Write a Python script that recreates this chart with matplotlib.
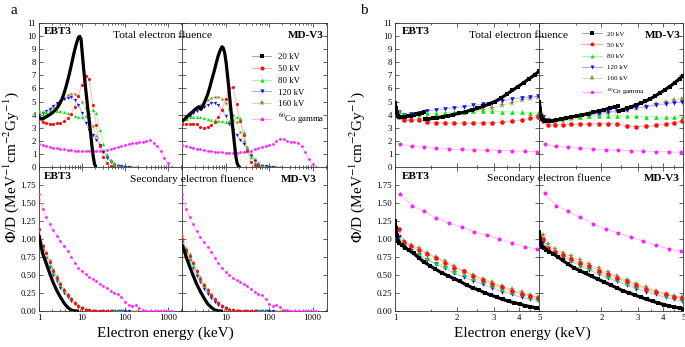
import numpy as np
import matplotlib
matplotlib.use("Agg")
import matplotlib.pyplot as plt
from matplotlib.lines import Line2D
from matplotlib.colors import to_rgb
from matplotlib.ticker import FixedLocator, NullFormatter, FixedFormatter, LogLocator

plt.rcParams['font.family'] = ['Liberation Serif', 'DejaVu Serif']
plt.rcParams['mathtext.fontset'] = 'stix'

# ---------------- data ----------------
series_keys = ['20', '50', '80', '120', '160', 'co']
series_labels = ['20 kV', '50 kV', '80 kV', '120 kV', '160 kV', r'$^{60}$Co gamma']

# panel a energy grids (keV)
E_A = [1, 1.21, 1.47, 1.78, 2.15, 2.61, 3.16, 3.83, 4.64, 5.62, 6.81, 8.25, 10, 12.1, 14.7,
       17.8, 21.5, 26.1, 31.6, 38.3, 46.4, 56.2, 68.1, 82.5, 100, 121, 147, 178, 215, 261,
       316, 383, 464, 562, 681, 825, 1000, 1210]
E_K = [1, 1.1, 1.2, 1.35, 1.5, 1.7, 1.9, 2.15, 2.4, 2.7, 3.0, 3.4, 3.8, 4.3, 4.8, 5.4, 6.0,
       6.7, 7.5, 8.2, 8.8, 9.5, 10.2, 11, 11.8, 12.7, 13.6, 14.6, 15.7, 16.9, 18.2, 19.6, 21]

# a: total electron fluence, EBT3
a_ebt3_tot_20 = [3.8, 3.7, 3.65, 3.75, 3.85, 3.95, 4.05, 4.2, 4.35, 4.55, 4.8, 5.15, 5.6, 6.2, 6.8,
                 7.5, 8.2, 8.9, 9.5, 9.9, 10.0, 9.8, 8.6, 7.4, 6.4, 5.4, 4.5, 3.6, 2.7, 1.7, 0.8, 0.2, 0.0]
a_ebt3_tot_50 = [3.65, 3.45, 3.35, 3.3, 3.3, 3.32, 3.38, 3.5, 3.7, 4.05, 4.6, 5.45, 6.3, 6.95, 6.75,
                 4.75, 3.2, 1.6, 0.75, 0.25, 0.06, 0.01]
a_ebt3_tot_80 = [4.3, 4.22, 4.2, 4.22, 4.25, 4.28, 4.27, 4.22, 4.12, 4.02, 3.92, 3.83, 3.8, 3.88, 4.15,
                 4.38, 4.1, 2.8, 1.75, 0.95, 0.45, 0.18, 0.06, 0.01]
a_ebt3_tot_120 = [4.0, 4.1, 4.25, 4.45, 4.65, 4.85, 5.05, 5.2, 5.3, 5.32, 5.15, 4.75, 4.1, 3.35, 2.8,
                  2.4, 2.05, 1.65, 1.15, 0.7, 0.35, 0.15, 0.05, 0.02, 0.005, 0.0]
a_ebt3_tot_160 = [3.9, 4.0, 4.15, 4.35, 4.55, 4.8, 5.05, 5.3, 5.5, 5.6, 5.6, 5.4, 5.0, 4.5, 3.85,
                  3.1, 2.35, 1.7, 1.2, 0.8, 0.5, 0.28, 0.12, 0.05, 0.02, 0.005, 0.0, 0.0]
a_ebt3_tot_co = [1.75, 1.68, 1.6, 1.53, 1.47, 1.42, 1.37, 1.33, 1.29, 1.26, 1.23, 1.21, 1.2, 1.18,
                 1.17, 1.17, 1.18, 1.2, 1.23, 1.28, 1.33, 1.4, 1.48, 1.57, 1.65, 1.72, 1.78, 1.82,
                 1.86, 1.9, 1.95, 2.05, 1.8, 1.55, 1.2, 0.7, 0.25, 0.0]

# a: total electron fluence, MD-V3
a_md_tot_20 = [3.5, 3.6, 3.75, 3.9, 4.05, 4.2, 4.35, 4.5, 4.6, 4.4, 4.7, 5.1, 5.5, 6.1, 6.7, 7.3,
               7.9, 8.5, 8.95, 9.2, 9.1, 8.7, 8.0, 7.0, 6.0, 4.9, 3.9, 2.9, 1.9, 0.9, 0.3, 0.05, 0.0]
a_md_tot_50 = [3.3, 3.25, 3.25, 3.3, 3.25, 3.05, 2.95, 3.05, 3.2, 3.4, 3.8, 4.35, 5.2, 6.0, 6.1,
               4.8, 3.5, 2.4, 1.2, 0.35, 0.1, 0.02]
a_md_tot_80 = [3.45, 3.65, 3.8, 3.85, 3.82, 3.78, 3.72, 3.67, 3.62, 3.57, 3.52, 3.47, 3.45, 3.48,
               3.6, 3.8, 3.75, 2.7, 1.4, 0.75, 0.35, 0.12, 0.04, 0.01]
a_md_tot_120 = [3.4, 3.65, 3.9, 4.1, 4.3, 4.45, 4.6, 4.75, 4.87, 4.88, 4.7, 4.35, 3.9, 3.3, 2.8,
                2.4, 2.05, 1.75, 1.3, 0.85, 0.45, 0.15, 0.05, 0.02, 0.005, 0.0]
a_md_tot_160 = [3.4, 3.65, 3.95, 4.2, 4.45, 4.7, 4.9, 5.1, 5.25, 5.35, 5.37, 5.2, 4.9, 4.4, 3.95,
                3.4, 2.7, 2.0, 1.5, 1.0, 0.6, 0.32, 0.14, 0.05, 0.02, 0.005, 0.0, 0.0]
a_md_tot_co = [1.7, 1.62, 1.53, 1.45, 1.38, 1.32, 1.26, 1.21, 1.17, 1.14, 1.11, 1.09, 1.07, 1.06,
               1.06, 1.07, 1.09, 1.12, 1.17, 1.24, 1.32, 1.42, 1.52, 1.6, 1.67, 1.75, 1.95, 2.15,
               2.1, 1.97, 1.93, 1.9, 1.83, 1.55, 1.1, 0.6, 0.2, 0.0]

# a: secondary electron fluence, EBT3
a_ebt3_sec_20 = [1.05, 0.8, 0.66, 0.52, 0.39, 0.28, 0.19, 0.11, 0.05, 0.015, 0.0, 0.0]
a_ebt3_sec_50 = [1.13, 0.9, 0.8, 0.68, 0.56, 0.46, 0.37, 0.29, 0.22, 0.16, 0.11, 0.07, 0.04, 0.02,
                 0.01, 0.005, 0, 0, 0, 0, 0]
a_ebt3_sec_80 = [1.0, 0.86, 0.75, 0.64, 0.53, 0.44, 0.36, 0.28, 0.22, 0.16, 0.11, 0.07, 0.045,
                 0.025, 0.012, 0.006, 0.002, 0, 0, 0, 0, 0, 0, 0]
a_ebt3_sec_120 = [1.0, 0.85, 0.73, 0.61, 0.5, 0.41, 0.32, 0.25, 0.19, 0.14, 0.095, 0.06, 0.035,
                  0.02, 0.01, 0.005, 0.002, 0, 0, 0, 0, 0, 0, 0, 0, 0]
a_ebt3_sec_160 = [1.12, 0.92, 0.82, 0.7, 0.58, 0.48, 0.39, 0.31, 0.24, 0.18, 0.12, 0.08, 0.05,
                  0.03, 0.015, 0.007, 0.003, 0, 0, 0, 0, 0, 0, 0, 0, 0, 0, 0]
a_ebt3_sec_co = [1.62, 1.42, 1.3, 1.2, 1.12, 1.04, 0.97, 0.9, 0.83, 0.75, 0.67, 0.6, 0.55, 0.51,
                 0.47, 0.44, 0.41, 0.38, 0.35, 0.32, 0.28, 0.25, 0.24, 0.19, 0.13, 0.09, 0.07,
                 0.08, 0.04, 0.015, 0.005, 0, 0, 0, 0, 0, 0, 0]

# a: secondary electron fluence, MD-V3
a_md_sec_20 = [0.92, 0.76, 0.62, 0.49, 0.37, 0.27, 0.18, 0.1, 0.05, 0.015, 0.0, 0.0]
a_md_sec_50 = [1.0, 0.85, 0.76, 0.66, 0.55, 0.45, 0.36, 0.29, 0.22, 0.16, 0.11, 0.07, 0.04, 0.02,
               0.01, 0.005, 0, 0, 0, 0, 0]
a_md_sec_80 = [0.92, 0.82, 0.72, 0.62, 0.52, 0.43, 0.35, 0.28, 0.22, 0.16, 0.11, 0.07, 0.045,
               0.025, 0.012, 0.006, 0.002, 0, 0, 0, 0, 0, 0, 0]
a_md_sec_120 = [0.95, 0.81, 0.7, 0.59, 0.49, 0.4, 0.31, 0.24, 0.18, 0.13, 0.09, 0.06, 0.035, 0.02,
                0.01, 0.005, 0.002, 0, 0, 0, 0, 0, 0, 0, 0, 0]
a_md_sec_160 = [1.05, 0.88, 0.79, 0.68, 0.57, 0.47, 0.38, 0.3, 0.23, 0.17, 0.12, 0.08, 0.05, 0.03,
                0.015, 0.007, 0.003, 0, 0, 0, 0, 0, 0, 0, 0, 0, 0, 0]
a_md_sec_co = [1.62, 1.42, 1.3, 1.2, 1.11, 1.03, 0.96, 0.89, 0.82, 0.74, 0.66, 0.59, 0.54, 0.5,
               0.46, 0.43, 0.4, 0.37, 0.34, 0.31, 0.27, 0.24, 0.22, 0.17, 0.1, 0.07, 0.09, 0.06,
               0.02, 0.01, 0.005, 0, 0, 0, 0, 0, 0, 0]

# panel b energy grids (keV)
E_B = [1.04, 1.1, 1.19, 1.3, 1.43, 1.58, 1.75, 1.94, 2.15, 2.39, 2.66, 2.96, 3.3, 3.68, 4.1, 4.5, 4.95]
E_BC = [1.06, 1.21, 1.38, 1.58, 1.82, 2.1, 2.42, 2.8, 3.2, 3.7, 4.25, 4.85]
E_B_ebt3_20 = [1.0, 1.01, 1.02, 1.035, 1.05, 1.07, 1.09, 1.12, 1.15, 1.19, 1.23, 1.27, 1.31, 1.35,
               1.38, 1.385, 1.39, 1.45, 1.52, 1.6, 1.7, 1.8, 1.92, 2.05, 2.2, 2.35, 2.5, 2.67,
               2.85, 3.05, 3.25, 3.47, 3.7, 3.95, 4.2, 4.47, 4.75, 5.0]
E_B_md_20 = [1.0, 1.01, 1.02, 1.035, 1.05, 1.07, 1.1, 1.15, 1.2, 1.27, 1.35, 1.43, 1.52, 1.62,
             1.72, 1.83, 1.95, 2.07, 2.2, 2.32, 2.42, 2.435, 2.45, 2.55, 2.67, 2.8, 2.95, 3.1,
             3.27, 3.45, 3.65, 3.85, 4.07, 4.3, 4.55, 4.8, 5.0]
E_BS = [1.0, 1.01, 1.02, 1.035, 1.05, 1.08, 1.12, 1.17, 1.23, 1.3, 1.38, 1.47, 1.57, 1.68, 1.8,
        1.93, 2.07, 2.22, 2.38, 2.55, 2.73, 2.92, 3.12, 3.33, 3.55, 3.78, 4.02, 4.27, 4.53, 4.8, 5.0]

nan = float('nan')
b_ebt3_tot_20 = [4.9, 4.5, 4.1, 3.9, 3.82, 3.8, 3.8, 3.82, 3.86, 3.9, 3.96, 4.02, 4.08, 4.13, 4.17,
                 nan, 3.65, 3.67, 3.7, 3.75, 3.83, 3.9, 4.0, 4.1, 4.22, 4.35, 4.47, 4.62, 4.8,
                 5.0, 5.25, 5.55, 5.85, 6.15, 6.45, 6.75, 7.05, 7.35]
b_ebt3_tot_50 = [3.85, 3.55, 3.55, 3.6, 3.45, 3.38, 3.35, 3.35, 3.35, 3.35, 3.35, 3.38, 3.42, 3.5, 3.6, 3.7, 3.85]
b_ebt3_tot_80 = [4.3, 4.05, 4.0, 4.05, 4.1, 4.1, 4.15, 4.18, 4.22, 4.25, 4.25, 4.25, 4.22, 4.2, 4.17, 4.14, 4.1]
b_ebt3_tot_120 = [4.2, 4.0, 4.05, 4.15, 4.3, 4.35, 4.45, 4.52, 4.6, 4.7, 4.8, 4.92, 5.05, 5.18, 5.3, 5.35, 5.4]
b_ebt3_tot_160 = [4.1, 3.6, 3.6, 3.65, 3.75, 3.85, 3.95, 4.03, 4.12, 4.25, 4.38, 4.52, 4.7, 4.9, 5.1, 5.25, 5.35]
b_ebt3_tot_co = [1.73, 1.58, 1.5, 1.4, 1.36, 1.32, 1.29, 1.26, 1.24, 1.21, 1.18, 1.16]

b_md_tot_20 = [5.0, 4.4, 3.9, 3.65, 3.55, 3.5, 3.5, 3.52, 3.56, 3.64, 3.73, 3.82, 3.9, 3.98, 4.07,
               4.17, 4.28, 4.38, 4.5, 4.58, 4.65, nan, 4.3, 4.38, 4.48, 4.6, 4.73, 4.87, 5.02,
               5.2, 5.42, 5.65, 5.9, 6.15, 6.45, 6.75, 6.97]
b_md_tot_50 = [3.5, 3.2, 3.2, 3.22, 3.25, 3.25, 3.27, 3.3, 3.3, 3.3, 3.1, 3.08, 3.1, 3.18, 3.28, 3.38, 3.5]
b_md_tot_80 = [3.7, 3.6, 3.65, 3.72, 3.8, 3.85, 3.88, 3.9, 3.9, 3.9, 3.88, 3.86, 3.84, 3.82, 3.8, 3.78, 3.75]
b_md_tot_120 = [3.8, 3.6, 3.6, 3.68, 3.78, 3.88, 3.98, 4.08, 4.18, 4.28, 4.38, 4.5, 4.6, 4.72, 4.82, 4.9, 4.95]
b_md_tot_160 = [3.9, 3.5, 3.4, 3.52, 3.65, 3.8, 3.92, 4.02, 4.12, 4.25, 4.38, 4.52, 4.66, 4.82, 4.97, 5.08, 5.18]
b_md_tot_co = [1.75, 1.57, 1.49, 1.41, 1.35, 1.3, 1.26, 1.22, 1.19, 1.16, 1.13, 1.11]

b_ebt3_sec_20 = [1.25, 1.15, 1.05, 0.97, 0.94, 0.91, 0.88, 0.84, 0.8, 0.74, 0.68, 0.63, 0.58, 0.53,
                 0.49, 0.45, 0.41, 0.36, 0.32, 0.29, 0.25, 0.22, 0.19, 0.16, 0.135, 0.115, 0.095,
                 0.075, 0.06, 0.045, 0.035]
b_ebt3_sec_50 = [1.13, 0.96, 0.9, 0.85, 0.79, 0.73, 0.67, 0.6, 0.55, 0.49, 0.43, 0.38, 0.33, 0.28, 0.24, 0.21, 0.18]
b_ebt3_sec_80 = [1.0, 0.9, 0.84, 0.79, 0.73, 0.67, 0.62, 0.56, 0.51, 0.46, 0.41, 0.36, 0.31, 0.27, 0.23, 0.2, 0.17]
b_ebt3_sec_120 = [1.02, 0.9, 0.83, 0.77, 0.71, 0.65, 0.59, 0.52, 0.47, 0.42, 0.37, 0.32, 0.27, 0.23, 0.19, 0.17, 0.15]
b_ebt3_sec_160 = [1.12, 0.97, 0.92, 0.87, 0.81, 0.75, 0.69, 0.62, 0.56, 0.5, 0.45, 0.4, 0.34, 0.3, 0.26, 0.22, 0.19]
b_ebt3_sec_co = [1.62, 1.46, 1.38, 1.29, 1.22, 1.16, 1.1, 1.05, 1.0, 0.94, 0.89, 0.86]

b_md_sec_20 = [1.1, 1.0, 0.93, 0.89, 0.87, 0.85, 0.82, 0.79, 0.75, 0.7, 0.65, 0.6, 0.56, 0.52, 0.48,
               0.44, 0.4, 0.36, 0.32, 0.28, 0.25, 0.22, 0.19, 0.16, 0.135, 0.11, 0.09, 0.07,
               0.055, 0.04, 0.03]
b_md_sec_50 = [1.0, 0.88, 0.82, 0.77, 0.72, 0.67, 0.62, 0.56, 0.51, 0.46, 0.41, 0.36, 0.31, 0.27, 0.23, 0.2, 0.18]
b_md_sec_80 = [0.92, 0.85, 0.8, 0.75, 0.7, 0.64, 0.59, 0.54, 0.49, 0.44, 0.39, 0.34, 0.3, 0.26, 0.22, 0.19, 0.17]
b_md_sec_120 = [0.95, 0.86, 0.8, 0.75, 0.69, 0.63, 0.57, 0.51, 0.46, 0.41, 0.36, 0.31, 0.27, 0.23, 0.19, 0.16, 0.14]
b_md_sec_160 = [1.06, 0.93, 0.86, 0.81, 0.76, 0.7, 0.65, 0.59, 0.54, 0.48, 0.43, 0.38, 0.33, 0.28, 0.24, 0.21, 0.19]
b_md_sec_co = [1.63, 1.46, 1.38, 1.3, 1.21, 1.14, 1.08, 1.02, 0.97, 0.91, 0.86, 0.83]

# ---------------- style ----------------
colors = {'20': '#000000', '50': '#ff1010', '80': '#10e010', '120': '#1010ff',
          '160': '#8c8c30', 'co': '#ff20ff'}
markers = {'20': 's', '50': 'o', '80': '^', '120': 'v', '160': '*', 'co': 'p'}


def pale(key, f=0.3):
    r, g, b = to_rgb(colors[key])
    return (1 - f + f * r, 1 - f + f * g, 1 - f + f * b)


W, H = 685, 347
fig = plt.figure(figsize=(W / 100, H / 100), dpi=100)


def px_axes(x0, y0, x1, y1):
    return fig.add_axes([x0 / W, 1 - y1 / H, (x1 - x0) / W, (y1 - y0) / H])


def draw(ax, E, V, key, ms):
    E = list(E)[:len(V)]
    if key == '20':
        ax.plot(E, V, color='k', lw=2.3, zorder=6, solid_capstyle='butt')
        ax.plot(E, V, ls='none', marker='s', ms=ms * 0.85, color='k', mew=0, zorder=6)
    else:
        ax.plot(E, V, color=pale(key), lw=0.7, zorder=2)
        m = ms * 1.35 if key == '160' else ms
        ax.plot(E, V, ls='none', marker=markers[key], ms=m, color=colors[key], mew=0, zorder=3)


def setup(ax, kind, top, left):
    ax.set_xscale('log')
    if kind == 'a':
        ax.set_xlim(1, 2150)
        ax.xaxis.set_major_locator(FixedLocator([1, 10, 100, 1000]))
        ax.xaxis.set_minor_locator(LogLocator(base=10, subs=np.arange(2, 10)))
        labs = ['1', '10', '100', '1000'] if left else ['', '10', '100', '1000']
    else:
        ax.set_xlim(1, 5)
        ax.xaxis.set_major_locator(FixedLocator([1, 2, 3, 4, 5]))
        ax.xaxis.set_minor_locator(FixedLocator([1.5, 2.5, 3.5, 4.5]))
        labs = ['1', '2', '3', '4', '5'] if left else ['', '2', '3', '4', '5']
    ax.xaxis.set_minor_formatter(NullFormatter())
    if top:
        ax.set_ylim(0, 11)
        ax.yaxis.set_major_locator(FixedLocator(list(range(12))))
        ax.yaxis.set_major_formatter(FixedFormatter([str(i) for i in range(12)]))
        ax.xaxis.set_major_formatter(NullFormatter())
    else:
        ax.set_ylim(0, 2.0)
        yt = [0, 0.25, 0.5, 0.75, 1.0, 1.25, 1.5, 1.75]
        ax.yaxis.set_major_locator(FixedLocator(yt))
        ax.yaxis.set_major_formatter(FixedFormatter(['%.2f' % v for v in yt]))
        ax.xaxis.set_major_formatter(FixedFormatter(labs))
    if not left:
        ax.yaxis.set_major_formatter(NullFormatter())
    ax.tick_params(which='both', direction='in', top=True, right=True, labelsize=6.3,
                   pad=2, width=0.5, colors='#222222', labelcolor='black')
    ax.tick_params(which='major', length=3)
    ax.tick_params(which='minor', length=1.5)
    for s in ax.spines.values():
        s.set_linewidth(0.6)
        s.set_color('#333333')


# geometry (pixels)
ya0, yam, ya1 = 23.3, 166.7, 311
A = (39, 182.3, 327)
B = (395, 539.3, 683.3)

panels = {}
for kind, (x0, xm, x1) in (('a', A), ('b', B)):
    panels[(kind, 'ebt3', 'tot')] = px_axes(x0, ya0, xm, yam)
    panels[(kind, 'md', 'tot')] = px_axes(xm, ya0, x1, yam)
    panels[(kind, 'ebt3', 'sec')] = px_axes(x0, yam, xm, ya1)
    panels[(kind, 'md', 'sec')] = px_axes(xm, yam, x1, ya1)

data_a = {
    ('ebt3', 'tot'): [a_ebt3_tot_20, a_ebt3_tot_50, a_ebt3_tot_80, a_ebt3_tot_120, a_ebt3_tot_160, a_ebt3_tot_co],
    ('md', 'tot'): [a_md_tot_20, a_md_tot_50, a_md_tot_80, a_md_tot_120, a_md_tot_160, a_md_tot_co],
    ('ebt3', 'sec'): [a_ebt3_sec_20, a_ebt3_sec_50, a_ebt3_sec_80, a_ebt3_sec_120, a_ebt3_sec_160, a_ebt3_sec_co],
    ('md', 'sec'): [a_md_sec_20, a_md_sec_50, a_md_sec_80, a_md_sec_120, a_md_sec_160, a_md_sec_co],
}
data_b = {
    ('ebt3', 'tot'): [b_ebt3_tot_20, b_ebt3_tot_50, b_ebt3_tot_80, b_ebt3_tot_120, b_ebt3_tot_160, b_ebt3_tot_co],
    ('md', 'tot'): [b_md_tot_20, b_md_tot_50, b_md_tot_80, b_md_tot_120, b_md_tot_160, b_md_tot_co],
    ('ebt3', 'sec'): [b_ebt3_sec_20, b_ebt3_sec_50, b_ebt3_sec_80, b_ebt3_sec_120, b_ebt3_sec_160, b_ebt3_sec_co],
    ('md', 'sec'): [b_md_sec_20, b_md_sec_50, b_md_sec_80, b_md_sec_120, b_md_sec_160, b_md_sec_co],
}

draw_order = [5, 4, 3, 2, 1, 0]
for (det, part), vals in data_a.items():
    ax = panels[('a', det, part)]
    for i in draw_order:
        key = series_keys[i]
        if key == '20':
            E = E_K if part == 'tot' else E_A
        else:
            E = E_A
        draw(ax, E, vals[i], key, 2.3)
    setup(ax, 'a', part == 'tot', det == 'ebt3')

for (det, part), vals in data_b.items():
    ax = panels[('b', det, part)]
    for i in draw_order:
        key = series_keys[i]
        if key == '20':
            if part == 'tot':
                E = E_B_ebt3_20 if det == 'ebt3' else E_B_md_20
            else:
                E = E_BS
        elif key == 'co':
            E = E_BC
        else:
            E = E_B
        draw(ax, E, vals[i], key, 3.3)
    setup(ax, 'b', part == 'tot', det == 'ebt3')


# ---------------- texts ----------------
def ftext(x, y, s, **kw):
    fig.text(x / W, 1 - y / H, s, va='center', **kw)


for off in (0, 357):
    ftext(44 + off + (1 if off else 0), 31, 'EBT3', fontsize=8, fontweight='bold', ha='left')
    ftext(44 + off + (1 if off else 0), 177, 'EBT3', fontsize=8, fontweight='bold', ha='left')

ftext(113, 35, 'Total electron fluence', fontsize=8.2, ha='left', zorder=20)
ftext(324, 35, 'MD-V3', fontsize=8, fontweight='bold', ha='right')
ftext(130, 179, 'Secondary electron fluence', fontsize=8.2, ha='left', zorder=20)
ftext(317, 180, 'MD-V3', fontsize=8, fontweight='bold', ha='right')

ftext(469, 35, 'Total electron fluence', fontsize=8.2, ha='left', zorder=20)
ftext(681, 35, 'MD-V3', fontsize=8, fontweight='bold', ha='right')
ftext(487, 178, 'Secondary electron fluence', fontsize=8.2, ha='left', zorder=20)
ftext(680, 179, 'MD-V3', fontsize=8, fontweight='bold', ha='right')

ftext(14, 10, 'a', fontsize=11, ha='center')
ftext(364, 10, 'b', fontsize=11, ha='center')

ylab = r'$\Phi$/D (MeV$^{-1}$cm$^{-2}$Gy$^{-1}$)'
ftext(11, 167, ylab, fontsize=11, ha='center', rotation=90)
ftext(357, 167, ylab, fontsize=11, ha='center', rotation=90)
ftext(165, 333, 'Electron energy (keV)', fontsize=11, ha='center')
ftext(522, 333, 'Electron energy (keV)', fontsize=11, ha='center')


# ---------------- legends ----------------
def handles(ms):
    hs = []
    for k in series_keys:
        m = ms * 1.35 if k == '160' else ms
        hs.append(Line2D([], [], color=pale(k, 0.35), lw=0.8, marker=markers[k], ms=m,
                         markerfacecolor=colors[k], markeredgecolor=colors[k], mew=0))
    return hs


fig.legend(handles(3.0), series_labels, loc='upper left', bbox_to_anchor=(252 / W, 1 - 53 / H),
           frameon=False, fontsize=6.3, handlelength=2.2, handletextpad=0.8,
           labelspacing=0.42, borderpad=0, borderaxespad=0)
fig.legend(handles(2.8), series_labels, loc='upper left', bbox_to_anchor=(582 / W, 1 - 31 / H),
           frameon=False, fontsize=5.0, handlelength=2.9, handletextpad=0.7,
           labelspacing=0.75, borderpad=0, borderaxespad=0)

fig.savefig('out.png', dpi=100)
